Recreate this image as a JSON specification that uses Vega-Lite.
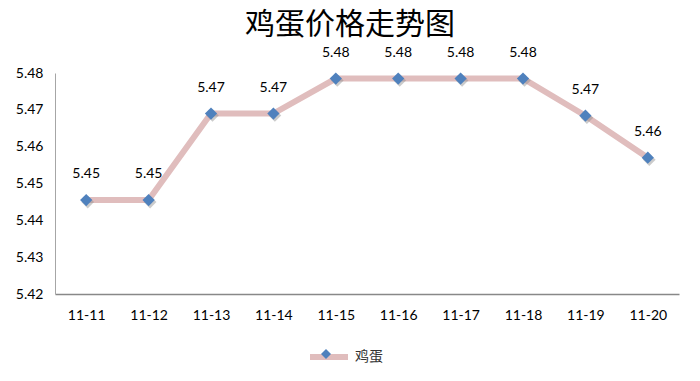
{
  "$schema": "https://vega.github.io/schema/vega-lite/v6.json",
  "width": 624,
  "height": 221,
  "autosize": {"type": "none"},
  "padding": {"left": 55, "top": 73, "right": 21, "bottom": 87},
  "background": "white",
  "title": {
    "text": "鸡蛋价格走势图",
    "font": "Noto Sans CJK SC",
    "fontSize": 30,
    "fontWeight": "normal",
    "color": "#000000",
    "anchor": "middle",
    "frame": "group",
    "dx": -17,
    "offset": 6
  },
  "config": {
    "view": {"stroke": null},
    "axis": {"labelFont": "Lato", "labelFontSize": 14, "labelColor": "#000000", "grid": false, "ticks": false, "title": null}
  },
  "data": {
    "values": [
      {"date": "11-11", "price": 5.4455, "series": "鸡蛋"},
      {"date": "11-12", "price": 5.4455, "series": "鸡蛋"},
      {"date": "11-13", "price": 5.469, "series": "鸡蛋"},
      {"date": "11-14", "price": 5.469, "series": "鸡蛋"},
      {"date": "11-15", "price": 5.4785, "series": "鸡蛋"},
      {"date": "11-16", "price": 5.4785, "series": "鸡蛋"},
      {"date": "11-17", "price": 5.4785, "series": "鸡蛋"},
      {"date": "11-18", "price": 5.4785, "series": "鸡蛋"},
      {"date": "11-19", "price": 5.4684, "series": "鸡蛋"},
      {"date": "11-20", "price": 5.457, "series": "鸡蛋"}
    ]
  },
  "encoding": {
    "x": {
      "field": "date",
      "type": "ordinal",
      "scale": {"type": "point", "padding": 0.5},
      "axis": {"labelAngle": 0, "labelPadding": 14, "domainColor": "#888888", "domainWidth": 1.5}
    },
    "y": {
      "field": "price",
      "type": "quantitative",
      "scale": {"domain": [5.42, 5.48], "zero": false, "nice": false},
      "axis": {"values": [5.42, 5.43, 5.44, 5.45, 5.46, 5.47, 5.48], "format": ".2f", "labelPadding": 12, "domainColor": "#A6A6A6", "domainWidth": 1}
    }
  },
  "layer": [
    {
      "mark": {"type": "line", "strokeWidth": 6, "strokeCap": "round"},
      "encoding": {
        "color": {
          "field": "series",
          "type": "nominal",
          "scale": {"range": ["#E0BDBD"]},
          "legend": {
            "orient": "none",
            "legendX": 252,
            "legendY": 262,
            "title": null,
            "symbolType": "stroke",
            "symbolSize": 1444,
            "symbolStrokeWidth": 6,
            "labelFont": "Noto Sans CJK SC",
            "labelFontSize": 14,
            "labelColor": "#333333",
            "labelOffset": 4
          }
        }
      }
    },
    {
      "mark": {"type": "point", "filled": true, "size": 160, "color": "#8C8C8C", "opacity": 0.45, "xOffset": 1.5, "yOffset": 2},
      "encoding": {"shape": {"value": "diamond"}}
    },
    {
      "mark": {"type": "point", "filled": true, "opacity": 1},
      "encoding": {
        "shape": {
          "field": "series",
          "type": "nominal",
          "scale": {"range": ["diamond"]},
          "legend": {
            "orient": "none",
            "legendX": 266,
            "legendY": 276,
            "title": null,
            "symbolSize": 100,
            "symbolFillColor": "#4F81BD",
            "symbolStrokeWidth": 0,
            "labelExpr": "''",
            "labelFontSize": 1
          }
        },
        "size": {"value": 150},
        "fill": {"value": "#4F81BD"}
      }
    },
    {
      "mark": {"type": "text", "dy": -26, "font": "Lato", "fontSize": 14, "color": "#000000", "baseline": "middle"},
      "encoding": {
        "text": {"field": "price", "type": "quantitative", "format": ".2f"}
      }
    }
  ]
}
